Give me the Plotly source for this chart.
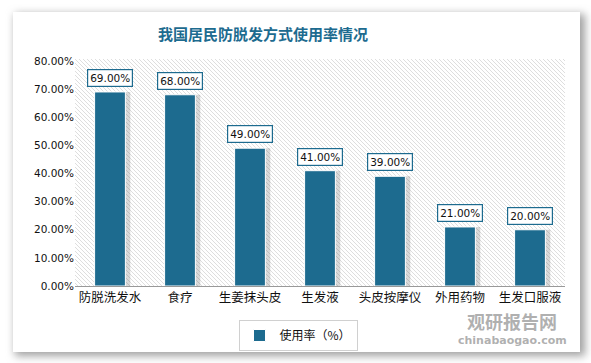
import plotly.graph_objects as go
import base64

categories = ["防脱洗发水", "食疗", "生姜抹头皮", "生发液", "头皮按摩仪", "外用药物", "生发口服液"]
usage_rate = [0.69, 0.68, 0.49, 0.41, 0.39, 0.21, 0.20]
y_ticks = [0, 0.1, 0.2, 0.3, 0.4, 0.5, 0.6, 0.7, 0.8]
title_text = "我国居民防脱发方式使用率情况"
series_name = "使用率（%）"

W, H = 591, 363
L, R, T, B = 75, 26, 61, 77
PW, PH = W - L - R, H - T - B
BAR = "#1d6b8f"

# background: card shadow + white panel + hatched plot area
svg = f"""<svg xmlns='http://www.w3.org/2000/svg' width='{W}' height='{H}' viewBox='0 0 {W} {H}'>
<defs>
<filter id='s' x='-10%' y='-10%' width='120%' height='120%'><feGaussianBlur stdDeviation='4'/></filter>
<pattern id='p' width='4' height='4' patternUnits='userSpaceOnUse'>
<path d='M0,0 L4,4 M-1,3 L1,5 M3,-1 L5,1' stroke='#d6d6d6' stroke-width='0.8'/></pattern>
</defs>
<rect x='0' y='0' width='{W}' height='{H}' fill='white'/>
<rect x='15' y='14' width='570' height='342' fill='#a0a0a0' filter='url(#s)'/>
<rect x='13' y='12' width='567' height='340' fill='white'/>
<rect x='{L}' y='{T-2}' width='{PW}' height='{PH+2}' fill='url(#p)'/>
</svg>"""
src = "data:image/svg+xml;base64," + base64.b64encode(svg.encode()).decode()

fig = go.Figure()
fig.add_trace(go.Bar(
    x=categories, y=usage_rate, width=0.44, offset=-0.22 + 0.07,
    marker=dict(color="rgba(0,0,0,0.15)", line=dict(width=0)),
    showlegend=False, hoverinfo="skip"))
fig.add_trace(go.Bar(
    x=categories, y=usage_rate, width=0.44, offset=-0.22, name=series_name,
    marker=dict(color=BAR, line=dict(color="white", width=1))))

for c, v in zip(categories, usage_rate):
    fig.add_annotation(
        x=c, y=v, text=f"{v*100:.2f}%", showarrow=False, yanchor="bottom", yshift=5,
        font=dict(family="DejaVu Sans", size=10.5, color="#111"),
        bgcolor="white", bordercolor=BAR, borderwidth=1.2, borderpad=2)

fig.add_annotation(xref="paper", yref="paper", x=(263 - L) / PW, y=(H - B - 33) / PH,
                   text=f"<b>{title_text}</b>", showarrow=False,
                   font=dict(family="Noto Sans CJK SC", size=15, color=BAR),
                   xanchor="center", yanchor="middle")

# watermark
fig.add_annotation(xref="paper", yref="paper", x=(512 - L) / PW, y=(H - B - 321) / PH,
                   text="<b>观研报告网</b>", showarrow=False,
                   font=dict(family="Noto Sans CJK SC", size=18, color="rgba(150,150,150,0.75)"),
                   xanchor="center", yanchor="middle")
fig.add_annotation(xref="paper", yref="paper", x=(512 - L) / PW, y=(H - B - 340) / PH,
                   text="<b>chinabaogao.com</b>", showarrow=False,
                   font=dict(family="DejaVu Sans", size=11, color="rgba(150,150,150,0.75)"),
                   xanchor="center", yanchor="middle")

fig.update_layout(
    width=W, height=H,
    margin=dict(l=L, r=R, t=T, b=B, pad=0),
    paper_bgcolor="white", plot_bgcolor="rgba(0,0,0,0)",
    barmode="overlay", bargap=0.56,
    images=[dict(source=src, xref="paper", yref="paper",
                 x=-L / PW, y=(H - B) / PH, sizex=W / PW, sizey=H / PH,
                 xanchor="left", yanchor="top", sizing="stretch", layer="below")],
    showlegend=True,
    legend=dict(orientation="h", x=(298 - L) / PW, xanchor="center",
                y=-(320 - (H - B)) / PH, yanchor="top",
                bordercolor="#d0d0d0", borderwidth=1, bgcolor="white",
                font=dict(family="Noto Sans CJK SC", size=12, color="#111"),
                itemwidth=30),
    font=dict(family="Noto Sans CJK SC", color="#111"),
)
fig.update_xaxes(showline=True, linecolor="#999", linewidth=1, showgrid=False,
                 ticks="", tickfont=dict(family="Noto Sans CJK SC", size=12.5, color="#111"))
fig.update_yaxes(range=[0, 0.8], tickvals=y_ticks, tickformat=".2%", showgrid=False,
                 zeroline=False, showline=False, ticks="",
                 tickfont=dict(family="DejaVu Sans", size=10.5, color="#111"))

fig.write_html("out.html", config={"displayModeBar": False},
               post_script="document.body.style.margin='0';document.body.style.overflow='hidden';")
